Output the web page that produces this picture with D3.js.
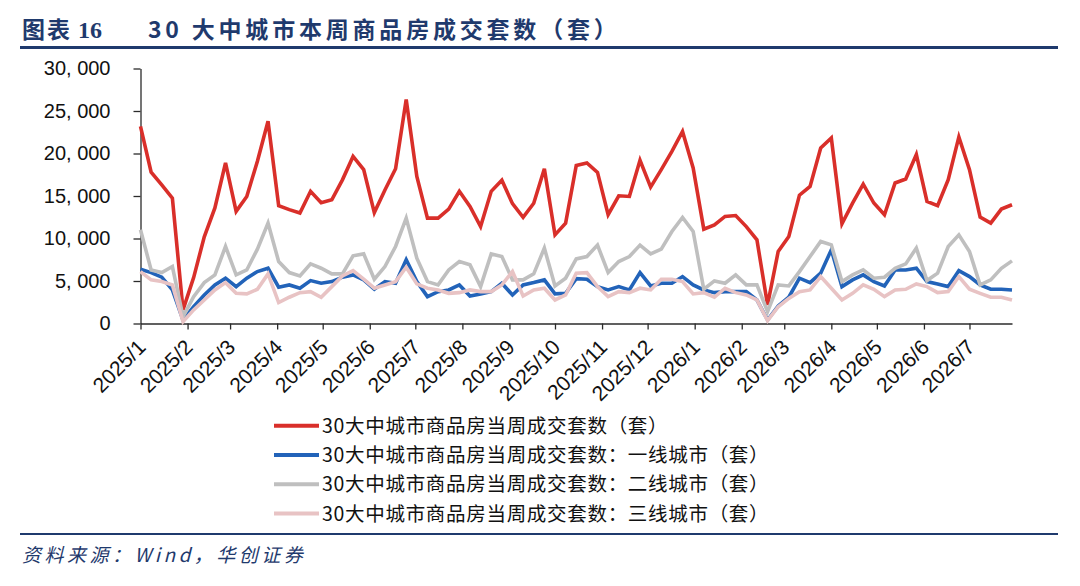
<!DOCTYPE html>
<meta charset="utf-8">
<html>
<head>
<title>30大中城市本周商品房成交套数</title>
<style>
  body { margin: 0; background: #fff; }
  svg { display: block; }
  .axis text { font: 20px "Liberation Sans", Arial, sans-serif; fill: #111; }
  .axis path, .axis line { stroke: #2b2b2b; stroke-width: 1.3px; }
  .line { fill: none; stroke-width: 3.6px; stroke-linejoin: miter; }
  .legend text { font: 19.5px "Noto Sans CJK SC", sans-serif; fill: #111; letter-spacing: 0.7px; }
</style>
</head>
<body>
<svg width="1080" height="586"></svg>
<script src="https://d3js.org/d3.v7.min.js"></script>
<script>
// weekly dates
var weeks = [
  "2025-01-01","2025-01-08","2025-01-15","2025-01-22","2025-01-29","2025-02-05","2025-02-12","2025-02-19","2025-02-26",
  "2025-03-05","2025-03-12","2025-03-19","2025-03-26","2025-04-02","2025-04-09","2025-04-16","2025-04-23","2025-04-30",
  "2025-05-07","2025-05-14","2025-05-21","2025-05-28","2025-06-04","2025-06-11","2025-06-18","2025-06-25","2025-07-02",
  "2025-07-09","2025-07-16","2025-07-23","2025-07-30","2025-08-06","2025-08-13","2025-08-20","2025-08-27","2025-09-03",
  "2025-09-10","2025-09-17","2025-09-24","2025-10-01","2025-10-08","2025-10-15","2025-10-22","2025-10-29","2025-11-05",
  "2025-11-12","2025-11-19","2025-11-26","2025-12-03","2025-12-10","2025-12-17","2025-12-24","2025-12-31","2026-01-07",
  "2026-01-14","2026-01-21","2026-01-28","2026-02-04","2026-02-11","2026-02-18","2026-02-25","2026-03-04","2026-03-11",
  "2026-03-18","2026-03-25","2026-04-01","2026-04-08","2026-04-15","2026-04-22","2026-04-29","2026-05-06","2026-05-13",
  "2026-05-20","2026-05-27","2026-06-03","2026-06-10","2026-06-17","2026-06-24","2026-07-01","2026-07-08","2026-07-15",
  "2026-07-22","2026-07-29"
];

var total = [23200,17800,16300,14750,1600,5400,10200,13600,18900,13200,
  14950,19100,23800,13850,13400,13000,15550,14200,14550,16900,
  19650,18100,13050,15700,18200,26350,17300,12400,12400,13450,
  15550,13770,11400,15550,16850,14100,12500,14150,18200,10430,
  11800,18600,18880,17780,12800,15030,14950,19200,16050,18100,
  20250,22600,18300,11100,11600,12600,12700,11400,9850,2180,
  8470,10230,15100,16130,20650,21830,11730,14170,16400,14170,
  12800,16530,17000,19870,14360,13850,16920,21950,18100,12520,
  11810,13460,13970];

var tier1 = [6390,5990,5450,3950,410,1980,3360,4540,5330,4340,
  5330,6110,6500,4270,4540,4150,5050,4740,4930,5450,
  5720,5130,4030,4930,4740,7490,4930,3160,3750,3950,
  4540,3240,3480,3750,4740,3360,4540,4810,5130,3480,
  3550,5270,5210,4340,3950,4340,3950,5990,4420,4740,
  4740,5520,4540,3950,3630,3750,3750,3750,2770,410,
  2060,3090,5330,4810,5920,8670,4340,5130,5720,4930,
  4420,6300,6300,6500,4930,4660,4340,6220,5520,4540,
  4030,4030,3950];

var tier2 = [11020,6300,5990,6700,800,3160,4810,5720,9060,5720,
  6300,8750,11810,7290,5990,5600,7010,6500,5840,5840,
  7960,8190,5210,6700,9060,12400,7690,4930,4540,6300,
  7290,6900,4340,8190,7880,5130,5130,5840,8870,4420,
  5330,7600,7880,9220,5990,7290,7880,9220,8190,8750,
  10820,12480,10820,4030,5010,4740,5720,4540,4540,1390,
  4540,4420,6100,7880,9650,9250,4930,5720,6300,5330,
  5450,6500,7010,8870,5050,5920,9060,10430,8470,4540,
  5130,6500,7370];

var tier3 = [6110,5130,4930,4540,210,1600,2770,3950,4810,3550,
  3480,4030,5840,2460,3090,3630,3750,3090,4340,5600,
  6220,5210,4150,4540,4930,6620,4660,4150,3950,3550,
  3630,3950,3750,3750,4540,6110,3240,3950,4150,2770,
  3360,5920,5990,4340,3160,3750,3630,4150,3950,5210,
  5210,4930,3480,3630,3090,4150,3630,3360,2770,330,
  1970,2950,3750,3950,5520,4150,2770,3550,4540,4030,
  3160,3950,4030,4660,4340,3630,3750,5520,4030,3550,
  3090,3090,2770];

var seriesNames = [
  "30大中城市商品房当周成交套数（套）",
  "30大中城市商品房当周成交套数：一线城市（套）",
  "30大中城市商品房当周成交套数：二线城市（套）",
  "30大中城市商品房当周成交套数：三线城市（套）"
];
var yTicks = [0, 5000, 10000, 15000, 20000, 25000, 30000];
var monthTicks = ["2025/1","2025/2","2025/3","2025/4","2025/5","2025/6","2025/7","2025/8","2025/9",
  "2025/10","2025/11","2025/12","2026/1","2026/2","2026/3","2026/4","2026/5","2026/6","2026/7"];

var colors = ["#d92f2a", "#2263b9", "#bfbfbf", "#e8c3c4"];
var navy = "#1f3a6d";

var svg = d3.select("svg");
var parseDay = d3.timeParse("%Y-%m-%d"),
    parseMonth = d3.timeParse("%Y/%m");
var dates = weeks.map(parseDay);

var x = d3.scaleTime()
    .domain([dates[0], dates[dates.length - 1]])
    .range([140.5, 1012]);
var y = d3.scaleLinear()
    .domain([0, 30000])
    .range([323.5, 68.5]);

// title
var title = svg.append("g").attr("fill", navy);
title.append("text").attr("x", 22).attr("y", 38)
    .style("font", "bold 23px 'Noto Sans CJK SC', sans-serif").attr("letter-spacing", "2px")
    .text("图表");
title.append("text").attr("x", 78).attr("y", 38)
    .style("font", "bold 24px 'Liberation Serif', serif")
    .text("16");
title.append("text").attr("x", 148).attr("y", 38)
    .style("font", "bold 23px 'Noto Sans CJK SC', sans-serif").attr("letter-spacing", "3.8px")
    .text("30 大中城市本周商品房成交套数（套）");
svg.append("line").attr("x1", 20).attr("x2", 1058).attr("y1", 47.5).attr("y2", 47.5)
    .attr("stroke", navy).attr("stroke-width", 3);

// axes
var yAxis = svg.append("g").attr("class", "axis")
    .attr("transform", "translate(140.5,0)")
    .call(d3.axisLeft(y).tickValues(yTicks).tickSize(7).tickSizeOuter(0).tickPadding(23)
      .tickFormat(function(d) { return d3.format(",")(d).replace(",", ", "); }));

var xAxis = svg.append("g").attr("class", "axis")
    .attr("transform", "translate(0,323.5)")
    .call(d3.axisBottom(x).tickValues(monthTicks.map(parseMonth)).tickSize(6).tickSizeOuter(0)
      .tickFormat(function(d, i) { return monthTicks[i]; }));
xAxis.selectAll("text")
    .style("font-size", "21px")
    .attr("text-anchor", "end")
    .attr("x", 0).attr("y", 0).attr("dy", 0)
    .attr("transform", "translate(6,25) rotate(-45)");

// lines
var line = d3.line()
    .x(function(d, i) { return x(dates[i]); })
    .y(function(d) { return y(d); });

[total, tier1, tier2, tier3].forEach(function(s, k) {
  svg.append("path")
      .datum(s)
      .attr("class", "line")
      .attr("stroke", colors[k])
      .attr("d", line);
});

// legend
var legend = svg.append("g").attr("class", "legend");
seriesNames.forEach(function(name, k) {
  var ly = 425.7 + k * 29.3;
  legend.append("line")
      .attr("x1", 274).attr("x2", 319).attr("y1", ly).attr("y2", ly)
      .attr("stroke", colors[k]).attr("stroke-width", 4);
  legend.append("text")
      .attr("x", 322).attr("y", ly + 7)
      .text(name);
});

// source
svg.append("line").attr("x1", 20).attr("x2", 1058).attr("y1", 534).attr("y2", 534)
    .attr("stroke", navy).attr("stroke-width", 2);
svg.append("text").attr("x", 22).attr("y", 562)
    .attr("fill", navy)
    .attr("letter-spacing", "3.5px")
    .style("font", "italic 19px 'Noto Sans CJK SC', sans-serif")
    .text("资料来源：Wind，华创证券");
</script>
</body>
</html>
